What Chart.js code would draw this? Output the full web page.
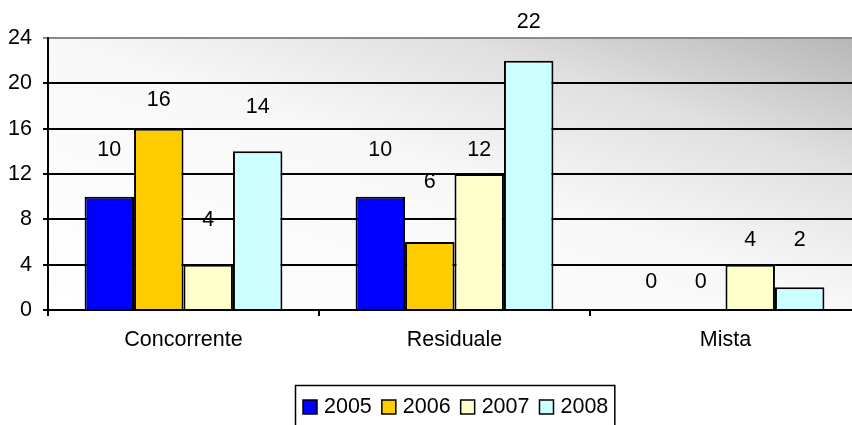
<!DOCTYPE html>
<html><head><meta charset="utf-8">
<script src="https://cdn.jsdelivr.net/npm/chart.js@4/dist/chart.umd.min.js"></script>
<style>
html,body{margin:0;padding:0;background:#fff;overflow:hidden;width:852px;height:425px}
#wrap{position:relative;width:880px;height:425px}
</style></head><body>
<div id="wrap"><canvas id="c" width="880" height="425"></canvas></div>
<script>
const categories = ['Concorrente', 'Residuale', 'Mista'];
const seriesNames = ['2005', '2006', '2007', '2008'];
const values2005 = [10, 10, 0];
const values2006 = [16, 6, 0];
const values2007 = [4, 12, 4];
const values2008 = [14, 22, 2];
const yTicks = [0, 4, 8, 12, 16, 20, 24];

// styling: colours and how far (px) each value label sits above its bar
const seriesColors = ['#0000ff', '#ffcc00', '#ffffcc', '#ccffff'];
const labelLift = [[47, 47, 28], [29, 60, 28], [45, 24, 25], [44, 39, 47]];

const FONT = '"Liberation Sans", Arial, sans-serif';
const FS = 21.5;
const seriesValues = [values2005, values2006, values2007, values2008];

const bgPlugin = {
  id: 'bg',
  beforeDraw(chart) {
    const a = chart.chartArea, ctx = chart.ctx;
    const W = a.right - a.left, H = a.bottom - a.top;
    const cx = (a.left + a.right) / 2, cy = (a.top + a.bottom) / 2;
    const k = W * H / (W * W + H * H);
    const dx = H * k, dy = -W * k;
    const g = ctx.createLinearGradient(cx - dx, cy - dy, cx + dx, cy + dy);
    g.addColorStop(0, '#ffffff');
    g.addColorStop(0.5, '#f8f8f8');
    g.addColorStop(0.75, '#e0e0e0');
    g.addColorStop(1, '#b6b6b6');
    ctx.save();
    ctx.fillStyle = g;
    ctx.fillRect(a.left, a.top, W, H);
    ctx.restore();
  }
};

const labelPlugin = {
  id: 'vlabels',
  afterDatasetsDraw(chart) {
    const ctx = chart.ctx;
    ctx.save();
    ctx.font = FS + 'px ' + FONT;
    ctx.fillStyle = '#000';
    ctx.textAlign = 'center';
    ctx.textBaseline = 'middle';
    chart.data.datasets.forEach((ds, i) => {
      chart.getDatasetMeta(i).data.forEach((bar, j) => {
        ctx.fillText(String(ds.data[j]), bar.x, bar.y - labelLift[i][j]);
      });
    });
    ctx.restore();
  }
};

const legendPlugin = {
  id: 'boxLegend',
  afterDraw(chart) {
    const ctx = chart.ctx, a = chart.chartArea;
    ctx.save();
    ctx.font = FS + 'px ' + FONT;
    const sq = 14, gap = 7, after = 10, padL = 8, padR = 6;
    const items = chart.data.datasets.map(ds => ({
      label: ds.label, color: ds.backgroundColor,
      w: sq + gap + ctx.measureText(ds.label).width
    }));
    let total = padL + padR;
    items.forEach((it, i) => { total += it.w + (i < items.length - 1 ? after : 0); });
    const cx = (a.left + a.right) / 2;
    const left = Math.round(cx - total / 2);
    const top = 385;
    ctx.lineWidth = 1.5;
    ctx.strokeStyle = '#000';
    ctx.strokeRect(left + 0.5, top + 0.5, total, 60);
    let x = left + padL;
    const yc = 407;
    items.forEach(it => {
      ctx.fillStyle = it.color;
      ctx.fillRect(x, yc - sq / 2, sq, sq);
      ctx.lineWidth = 1.5;
      ctx.strokeRect(x, yc - sq / 2, sq, sq);
      ctx.fillStyle = '#000';
      ctx.textAlign = 'left';
      ctx.textBaseline = 'middle';
      ctx.fillText(it.label, x + sq + gap, yc);
      x += it.w + after;
    });
    ctx.restore();
  }
};

new Chart(document.getElementById('c'), {
  type: 'bar',
  data: {
    labels: categories,
    datasets: seriesNames.map((n, i) => ({
      label: n,
      data: seriesValues[i],
      backgroundColor: seriesColors[i],
      borderColor: '#000',
      borderWidth: 2,
      categoryPercentage: 0.73,
      barPercentage: 1
    }))
  },
  options: {
    responsive: false,
    animation: false,
    layout: { padding: { top: 38, left: 0, right: 19, bottom: 65 } },
    plugins: { legend: { display: false }, tooltip: { enabled: false } },
    scales: {
      x: {
        afterFit(s) { s.height = 50; },
        grid: { drawOnChartArea: false, drawTicks: true, tickLength: 6, color: '#000', lineWidth: 2 },
        border: { color: '#000', width: 2 },
        ticks: { color: '#000', font: { family: FONT, size: FS }, padding: 11 }
      },
      y: {
        min: 0, max: 24,
        afterFit(s) { s.width = 48; },
        afterBuildTicks(s) { s.ticks = yTicks.map(v => ({ value: v })); },
        grid: {
          color: c => (c.tick && c.tick.value === 24 ? '#8a8a8a' : '#000'),
          lineWidth: 2,
          tickLength: 5
        },
        border: { color: '#000', width: 2 },
        ticks: { color: '#000', font: { family: FONT, size: FS }, padding: 11 }
      }
    }
  },
  plugins: [bgPlugin, labelPlugin, legendPlugin]
});
</script>
</body></html>
